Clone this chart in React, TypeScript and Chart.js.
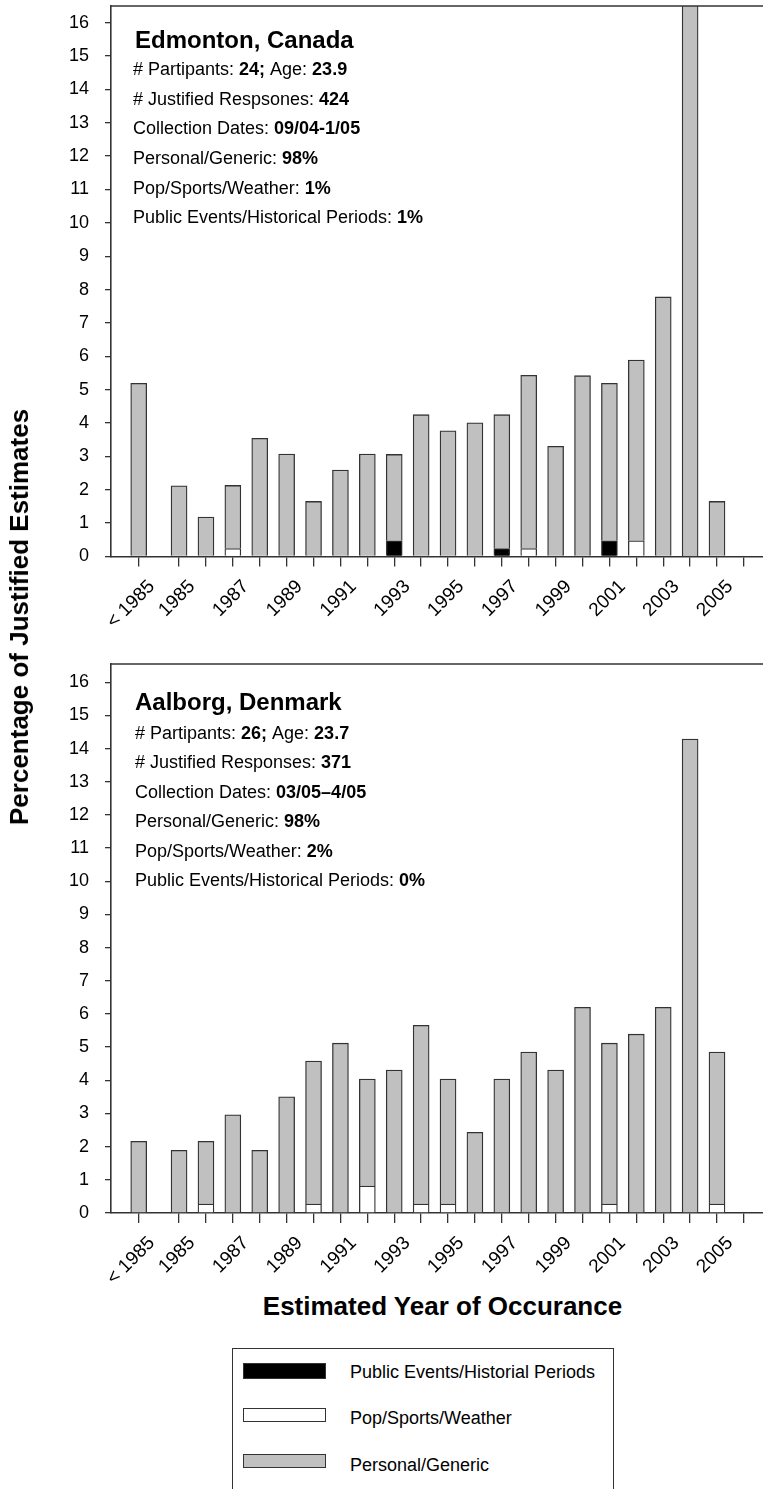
import React, { useEffect, useRef } from "react";
import { Chart, registerables } from "chart.js";
Chart.register(...registerables);

const FONT = '"Liberation Sans", Arial, Helvetica, sans-serif';

// ---------- data ----------
const CATEGORIES = [
  "< 1985", "1985", "1986", "1987", "1988", "1989", "1990", "1991", "1992", "1993",
  "1994", "1995", "1996", "1997", "1998", "1999", "2000", "2001", "2002", "2003",
  "2004", "2005", "2006",
];
const SHOWN_LABELS = ["< 1985", "1985", "1987", "1989", "1991", "1993", "1995", "1997", "1999", "2001", "2003", "2005"];
const Y_TICKS = [0, 1, 2, 3, 4, 5, 6, 7, 8, 9, 10, 11, 12, 13, 14, 15, 16];

const SERIES_NAMES = ["Public Events/Historial Periods", "Pop/Sports/Weather", "Personal/Generic"];

// Edmonton, Canada (% of justified estimates)
const EDM_PUBLIC = [0, 0, 0, 0, 0, 0, 0, 0, 0, 0.47, 0, 0, 0, 0.24, 0, 0, 0, 0.47, 0, 0, 0, 0, 0];
const EDM_POP = [0, 0, 0, 0.24, 0, 0, 0, 0, 0, 0, 0, 0, 0, 0, 0.24, 0, 0, 0, 0.47, 0, 0, 0, 0];
const EDM_PERSONAL = [5.19, 2.12, 1.18, 1.89, 3.54, 3.07, 1.65, 2.59, 3.07, 2.59, 4.25, 3.77, 4.01, 4.01, 5.19, 3.30, 5.42, 4.72, 5.42, 7.78, 21.46, 1.65, 0];

// Aalborg, Denmark
const AAL_PUBLIC = [0, 0, 0, 0, 0, 0, 0, 0, 0, 0, 0, 0, 0, 0, 0, 0, 0, 0, 0, 0, 0, 0, 0];
const AAL_POP = [0, 0, 0.27, 0, 0, 0, 0.27, 0, 0.81, 0, 0.27, 0.27, 0, 0, 0, 0, 0, 0.27, 0, 0, 0, 0.27, 0];
const AAL_PERSONAL = [2.16, 1.89, 1.89, 2.96, 1.89, 3.50, 4.31, 5.12, 3.23, 4.31, 5.39, 3.77, 2.43, 4.04, 4.85, 4.31, 6.20, 4.85, 5.39, 6.20, 14.29, 4.58, 0];

type Seg = [string, boolean];
const EDM_TITLE = "Edmonton, Canada";
const EDM_LINES: Seg[][] = [
  [["# Partipants: ", false], ["24;", true], [" Age: ", false], ["23.9", true]],
  [["# Justified Respsones: ", false], ["424", true]],
  [["Collection Dates: ", false], ["09/04-1/05", true]],
  [["Personal/Generic: ", false], ["98%", true]],
  [["Pop/Sports/Weather: ", false], ["1%", true]],
  [["Public Events/Historical Periods: ", false], ["1%", true]],
];
const AAL_TITLE = "Aalborg, Denmark";
const AAL_LINES: Seg[][] = [
  [["# Partipants: ", false], ["26;", true], [" Age: ", false], ["23.7", true]],
  [["# Justified Responses: ", false], ["371", true]],
  [["Collection Dates: ", false], ["03/05\u20134/05", true]],
  [["Personal/Generic: ", false], ["98%", true]],
  [["Pop/Sports/Weather: ", false], ["2%", true]],
  [["Public Events/Historical Periods: ", false], ["0%", true]],
];

// ---------- helpers ----------
const xOf = (label: string) => (label.startsWith("<") ? 1983.5 : Number(label));
const X_VALUES = CATEGORIES.map(xOf);

const LINE = "#333333";
const COLORS = ["#000000", "#ffffff", "#c0c0c0"];

interface PanelCfg {
  publicVals: number[];
  popVals: number[];
  personalVals: number[];
  padTop: number;
  xAxisHeight: number;
  yMax: number;
  title: string;
  lines: Seg[][];
  titleDx: number;
  titleDy: number;
  linesDx: number;
  linesDy: number;
  lineGap: number;
}

function makeChart(canvas: HTMLCanvasElement, cfg: PanelCfg) {
  const series = [cfg.publicVals, cfg.popVals, cfg.personalVals];
  const framePlugin = {
    id: "frameAndText",
    afterDraw(chart: any) {
      const { ctx, chartArea } = chart;
      ctx.save();
      ctx.strokeStyle = LINE;
      ctx.lineWidth = 1.6;
      ctx.beginPath();
      ctx.moveTo(chartArea.left, chartArea.top);
      ctx.lineTo(chart.width, chartArea.top);
      ctx.stroke();

      ctx.fillStyle = "#000";
      ctx.textBaseline = "middle";
      ctx.textAlign = "left";
      ctx.font = `bold 24px ${FONT}`;
      ctx.fillText(cfg.title, chartArea.left + cfg.titleDx, chartArea.top + cfg.titleDy);
      cfg.lines.forEach((segs, i) => {
        let x = chartArea.left + cfg.linesDx;
        const y = chartArea.top + cfg.linesDy + i * cfg.lineGap;
        segs.forEach(([t, b]) => {
          ctx.font = `${b ? "bold " : ""}18px ${FONT}`;
          ctx.fillText(t, x, y);
          x += ctx.measureText(t).width;
        });
      });
      ctx.restore();
    },
  };

  return new Chart(canvas, {
    type: "bar",
    data: {
      datasets: SERIES_NAMES.map((name, k) => ({
        label: name,
        data: X_VALUES.map((x, i) => ({ x, y: series[k][i] ? series[k][i] : null })),
        backgroundColor: COLORS[k],
        borderColor: LINE,
        borderWidth: 1.3,
        barThickness: 16,
      })),
    } as any,
    options: {
      animation: false,
      responsive: false,
      maintainAspectRatio: false,
      layout: { padding: { top: cfg.padTop, left: 0, right: 0, bottom: 0 } },
      plugins: { legend: { display: false }, tooltip: { enabled: false } },
      scales: {
        x: {
          type: "linear",
          stacked: true,
          offset: false,
          min: 1982.47,
          max: 2006.71,
          afterBuildTicks: (s: any) => {
            s.ticks = X_VALUES.map((v) => ({ value: v }));
          },
          afterFit: (s: any) => {
            s.height = cfg.xAxisHeight;
            s.paddingLeft = 0;
            s.paddingRight = 0;
          },
          grid: { display: true, offset: false, drawOnChartArea: false, drawTicks: true, tickLength: 10, color: LINE, lineWidth: 1.3 },
          border: { display: true, color: LINE, width: 1.6 },
          ticks: {
            autoSkip: false,
            maxRotation: 45,
            minRotation: 45,
            labelOffset: 13,
            padding: 9,
            color: "#000",
            font: { family: FONT, size: 19 },
            callback: (v: any) => {
              const idx = X_VALUES.indexOf(Number(v));
              const lab = idx >= 0 ? CATEGORIES[idx] : "";
              return SHOWN_LABELS.includes(lab) ? lab : "";
            },
          },
        },
        y: {
          stacked: true,
          min: 0,
          max: cfg.yMax,
          afterBuildTicks: (s: any) => {
            s.ticks = Y_TICKS.map((v) => ({ value: v }));
          },
          afterFit: (s: any) => {
            s.width = 111;
            s.paddingTop = 0;
            s.paddingBottom = 0;
          },
          grid: { display: true, drawOnChartArea: false, drawTicks: true, tickLength: 6, color: LINE, lineWidth: 1.3 },
          border: { display: true, color: LINE, width: 1.6 },
          ticks: {
            padding: 16,
            color: "#000",
            font: { family: FONT, size: 18 },
            callback: (v: any) => String(v),
          },
        },
      },
    } as any,
    plugins: [framePlugin],
  });
}

const TOP_CFG: PanelCfg = {
  publicVals: EDM_PUBLIC,
  popVals: EDM_POP,
  personalVals: EDM_PERSONAL,
  padTop: 6,
  xAxisHeight: 83.5,
  yMax: 16.5,
  title: EDM_TITLE,
  lines: EDM_LINES,
  titleDx: 24,
  titleDy: 35.7,
  linesDx: 22,
  linesDy: 64,
  lineGap: 29.7,
};

const BOTTOM_CFG: PanelCfg = {
  publicVals: AAL_PUBLIC,
  popVals: AAL_POP,
  personalVals: AAL_PERSONAL,
  padTop: 20,
  xAxisHeight: 77,
  yMax: 16.55,
  title: AAL_TITLE,
  lines: AAL_LINES,
  titleDx: 24,
  titleDy: 39.3,
  linesDx: 24,
  linesDy: 70,
  lineGap: 29.5,
};

export default function App() {
  const ref1 = useRef<HTMLCanvasElement>(null);
  const ref2 = useRef<HTMLCanvasElement>(null);

  useEffect(() => {
    const c1 = makeChart(ref1.current!, TOP_CFG);
    const c2 = makeChart(ref2.current!, BOTTOM_CFG);
    return () => {
      c1.destroy();
      c2.destroy();
    };
  }, []);

  const legendRows = [
    { name: SERIES_NAMES[0], color: COLORS[0], swTop: 1363, swH: 16, textY: 1372 },
    { name: SERIES_NAMES[1], color: COLORS[1], swTop: 1408, swH: 14, textY: 1418 },
    { name: SERIES_NAMES[2], color: COLORS[2], swTop: 1454, swH: 14, textY: 1465 },
  ];

  return (
    <div
      style={{
        position: "absolute",
        left: 0,
        top: 0,
        width: 763,
        height: 1489,
        overflow: "hidden",
        background: "#fff",
        fontFamily: FONT,
        color: "#000",
      }}
    >
      <canvas ref={ref1} width={763} height={640} style={{ position: "absolute", left: 0, top: 0, width: 763, height: 640 }} />
      <canvas ref={ref2} width={763} height={646} style={{ position: "absolute", left: 0, top: 644, width: 763, height: 646 }} />

      <div
        style={{
          position: "absolute",
          left: 19,
          top: 617,
          transform: "translate(-50%, -50%) rotate(-90deg)",
          whiteSpace: "nowrap",
          fontWeight: "bold",
          fontSize: 26,
          lineHeight: "30px",
        }}
      >
        Percentage of Justified Estimates
      </div>

      <div
        style={{
          position: "absolute",
          left: 442.5,
          top: 1306,
          transform: "translate(-50%, -50%)",
          whiteSpace: "nowrap",
          fontWeight: "bold",
          fontSize: 26,
          lineHeight: "30px",
        }}
      >
        Estimated Year of Occurance
      </div>

      <div
        style={{
          position: "absolute",
          left: 232,
          top: 1348,
          width: 382,
          height: 160,
          borderTop: `1.5px solid ${LINE}`,
          borderLeft: `1.5px solid ${LINE}`,
          borderRight: `1.5px solid ${LINE}`,
          boxSizing: "border-box",
        }}
      />
      {legendRows.map((r) => (
        <React.Fragment key={r.name}>
          <div
            style={{
              position: "absolute",
              left: 243,
              top: r.swTop,
              width: 83,
              height: r.swH,
              background: r.color,
              border: `1px solid ${LINE}`,
              boxSizing: "border-box",
            }}
          />
          <div
            style={{
              position: "absolute",
              left: 350,
              top: r.textY,
              transform: "translateY(-50%)",
              whiteSpace: "nowrap",
              fontSize: 18,
              lineHeight: "22px",
            }}
          >
            {r.name}
          </div>
        </React.Fragment>
      ))}
    </div>
  );
}
